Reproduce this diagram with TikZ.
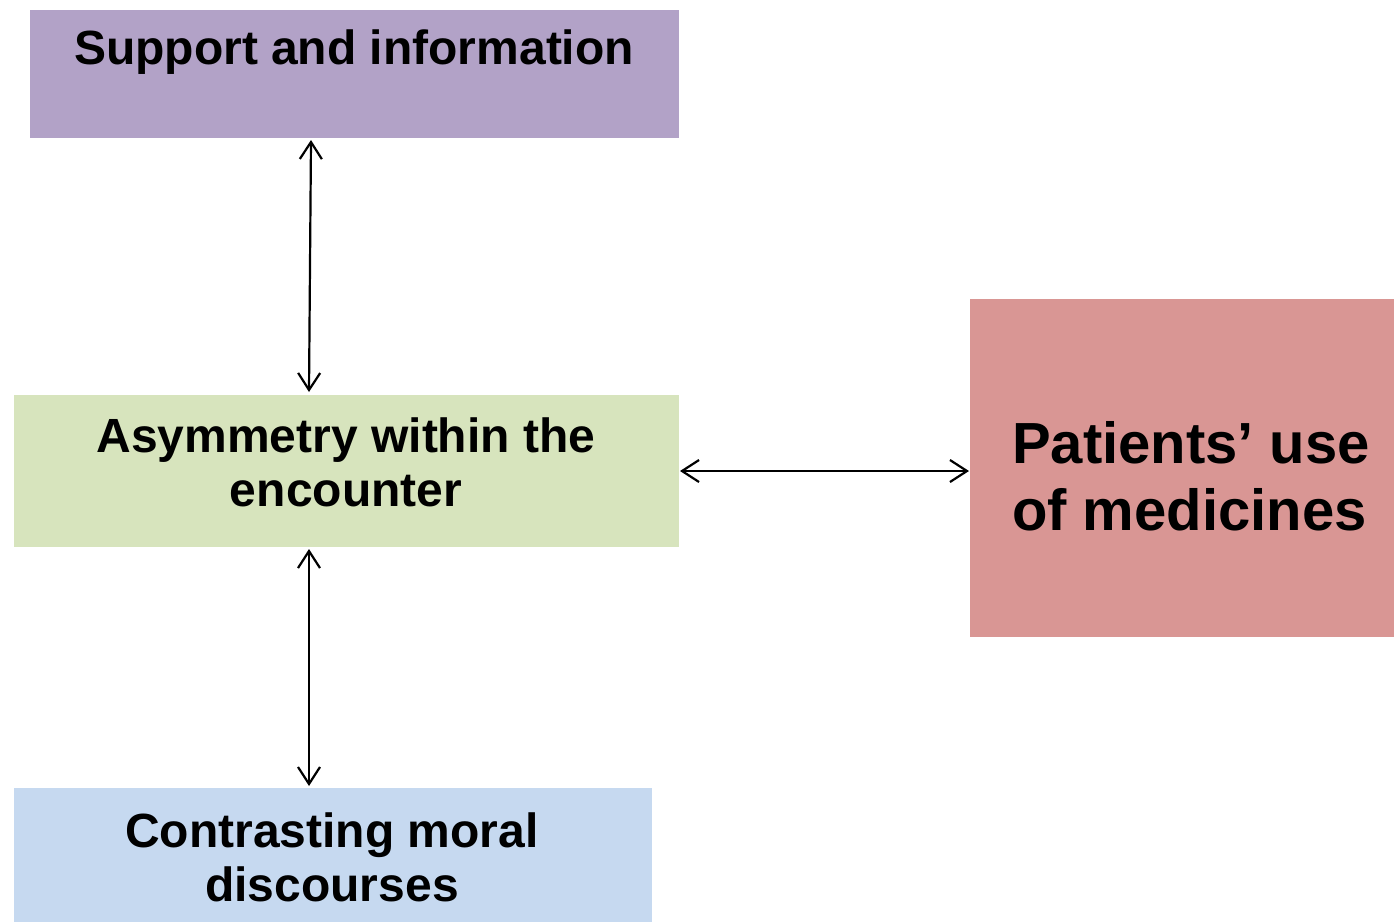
\documentclass[tikz,border=0pt]{standalone}
\usepackage{fontspec}
\setmainfont{Liberation Sans}
\usetikzlibrary{arrows.meta}
\definecolor{cpurple}{HTML}{B2A2C7}
\definecolor{cgreen}{HTML}{D7E4BD}
\definecolor{cred}{HTML}{D99694}
\definecolor{cblue}{HTML}{C6D9F0}
\tikzset{
  box/.style={draw=none, inner sep=0pt, outer sep=0pt},
  lbl/.style={inner sep=0pt, align=center, font=\fontsize{48}{54}\selectfont\bfseries},
  biglbl/.style={inner sep=0pt, align=left, font=\fontsize{58}{67}\selectfont\bfseries},
  link/.style={line width=2.2pt, {Straight Barb[length=17pt,width=22pt,line width=2.2pt]}-{Straight Barb[length=17pt,width=22pt,line width=2.2pt]}}
}
\begin{document}
\begin{tikzpicture}[x=1pt,y=-1pt]
\useasboundingbox (0,0) rectangle (1394,922);
\fill[cpurple] (30,10) rectangle (679,138);
\fill[cgreen] (14,395) rectangle (679,547);
\fill[cred] (970,299) rectangle (1394,637);
\fill[cblue] (14,788) rectangle (652,922);
\node[lbl] (t1) at (354,52) {Support and information};
\node[lbl] (t2) at (346,462) {Asymmetry within the\\encounter};
\node[biglbl] (t3) at (1191,476) {Patients’ use\\of medicines};
\node[lbl] (t4) at (332,857) {Contrasting moral\\discourses};
\coordinate (a1) at (311,140);
\coordinate (a2) at (309,392);
\coordinate (b1) at (309,549);
\coordinate (b2) at (309,786);
\coordinate (c1) at (680,471);
\coordinate (c2) at (969,471);
\draw[link] (a1) -- (a2);
\draw[link] (b1) -- (b2);
\draw[link] (c1) -- (c2);
\end{tikzpicture}
\end{document}
